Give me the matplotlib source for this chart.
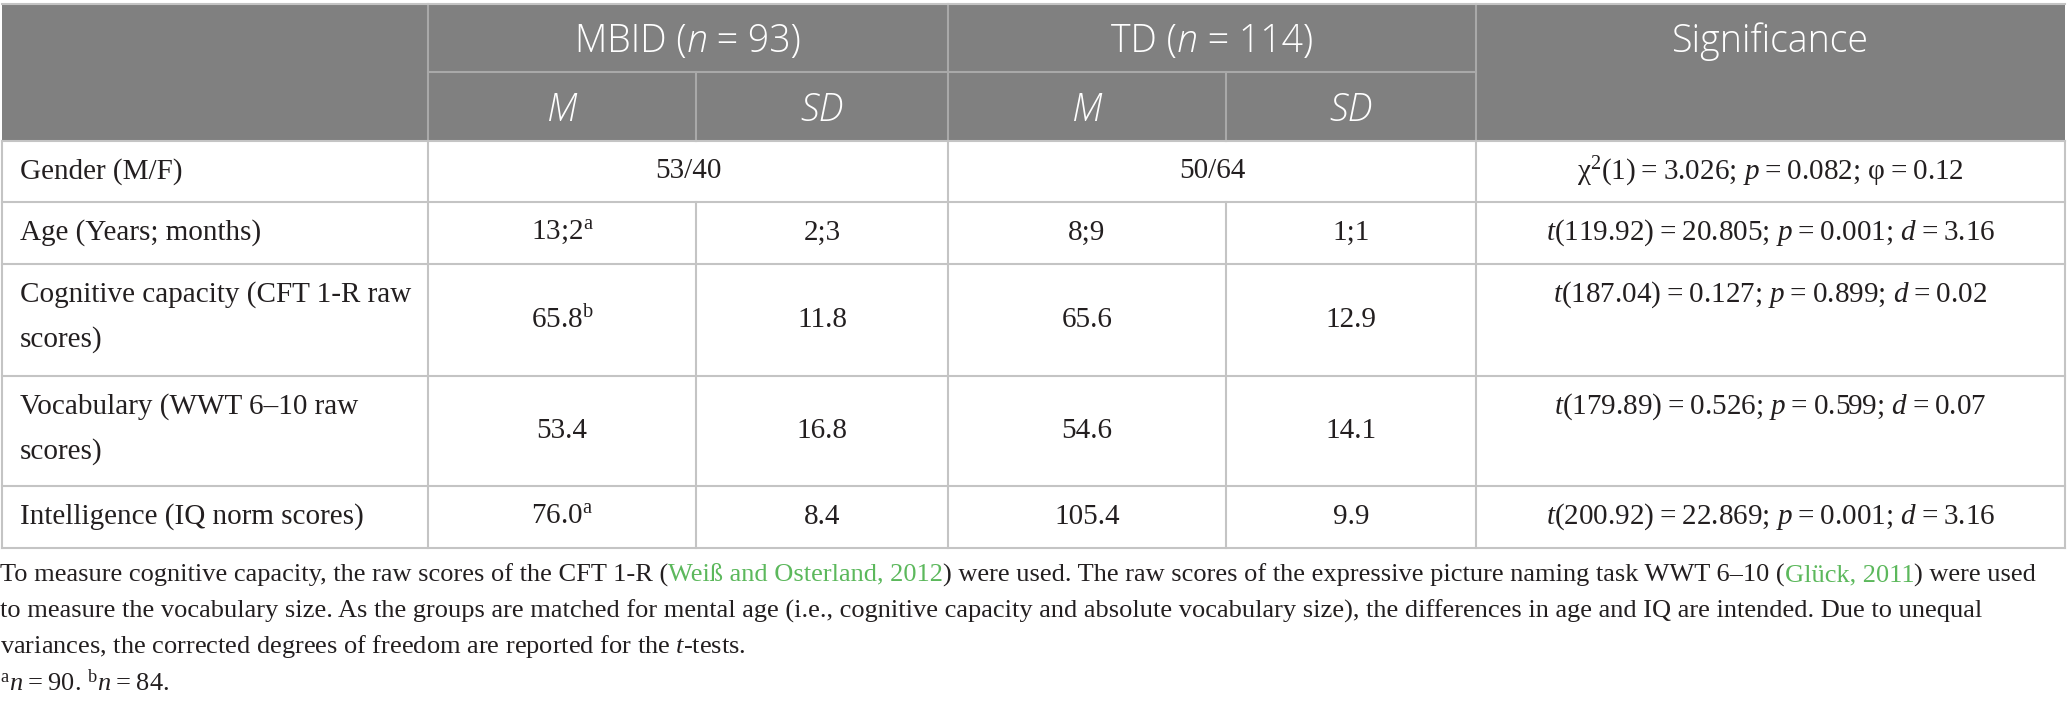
import matplotlib
matplotlib.use("Agg")
import matplotlib.pyplot as plt
from matplotlib.patches import Rectangle

plt.rcParams['mathtext.fontset'] = 'custom'
plt.rcParams['mathtext.rm'] = 'Liberation Serif'
plt.rcParams['mathtext.it'] = 'Liberation Serif:italic'
plt.rcParams['mathtext.bf'] = 'Liberation Serif:bold'

TS = "\u2009"  # espacio fino alrededor de "="

# ---- datos de la tabla ----
group_names = ["MBID", "TD"]
group_n = ["93", "114"]
sub_headers = ["M", "SD", "M", "SD"]
row_labels = ["Gender (M/F)",
              "Age (Years; months)",
              "Cognitive capacity (CFT 1-R raw\nscores)",
              "Vocabulary (WWT 6–10 raw\nscores)",
              "Intelligence (IQ norm scores)"]
gender_mbid = "53/40"
gender_td = "50/64"
mbid_m = [r"13;2$^{\mathrm{a}}$", r"65.8$^{\mathrm{b}}$", "53.4", r"76.0$^{\mathrm{a}}$"]
mbid_sd = ["2;3", "11.8", "16.8", "8.4"]
td_m = ["8;9", "65.6", "54.6", "105.4"]
td_sd = ["1;1", "12.9", "14.1", "9.9"]
significance = [r"χ$^{2}$(1) = 3.026; $p$ = 0.082; φ = 0.12",
                r"$t$(119.92) = 20.805; $p$ = 0.001; $d$ = 3.16",
                r"$t$(187.04) = 0.127; $p$ = 0.899; $d$ = 0.02",
                r"$t$(179.89) = 0.526; $p$ = 0.599; $d$ = 0.07",
                r"$t$(200.92) = 22.869; $p$ = 0.001; $d$ = 3.16"]
note_line1 = [("To measure cognitive capacity, the raw scores of the CFT 1-R (", 0),
              ("Weiß and Osterland, 2012", 1),
              (") were used. The raw scores of the expressive picture naming task WWT 6–10 (", 0),
              ("Glück, 2011", 1),
              (") were used", 0)]
note_line2 = ("to measure the vocabulary size. As the groups are matched for mental age (i.e., cognitive "
              "capacity and absolute vocabulary size), the differences in age and IQ are intended. Due to unequal")
note_line3 = r"variances, the corrected degrees of freedom are reported for the $t$-tests."
note_line4 = r"$^{\mathrm{a}}$$n$ = 90. $^{\mathrm{b}}$$n$ = 84."

# ---- geometria ----
W, H = 2067, 713
col_x = [2, 428, 696, 948, 1226, 1476, 2065]
row_y = [4, 72, 141, 202, 264, 376, 486, 548]

HEAD = "#808080"
HLINE = "#a9a9a9"
GRID = "#c4c4c4"
GREEN = "#5cb85c"
TXT = "#231f20"
SERIF = ["Liberation Serif", "DejaVu Serif"]
SANS = "Open Sans"
FS = 21
NFS = 19
HFS = 27

fig = plt.figure(figsize=(W / 100, H / 100), dpi=100)
ax = fig.add_axes([0, 0, 1, 1])
ax.set_xlim(0, W)
ax.set_ylim(H, 0)
ax.axis('off')
renderer = fig.canvas.get_renderer()


def piezas(x, y, pieces, ha='left'):
    # dibuja trozos de texto uno al lado del otro
    textos = []
    for s, props in pieces:
        t = ax.text(0, y, s, va='center', ha='left', **props)
        textos.append(t)
    anchos = [t.get_window_extent(renderer).width for t in textos]
    x0 = x - sum(anchos) / 2 if ha == 'center' else x
    for t, w in zip(textos, anchos):
        t.set_x(x0)
        x0 += w


def fino(s):
    return s.replace(" = ", TS + "=" + TS)


# cabecera gris
ax.add_patch(Rectangle((col_x[0], row_y[0]), col_x[-1] - col_x[0], row_y[2] - row_y[0],
                       facecolor=HEAD, edgecolor='none'))
# lineas de la cabecera
ax.plot([col_x[1], col_x[5]], [row_y[1], row_y[1]], color=HLINE, lw=1.5)
for i in [1, 3, 5]:
    ax.plot([col_x[i], col_x[i]], [row_y[0], row_y[2]], color=HLINE, lw=1.5)
for i in [2, 4]:
    ax.plot([col_x[i], col_x[i]], [row_y[1], row_y[2]], color=HLINE, lw=1.5)
ax.plot([col_x[0], col_x[-1]], [row_y[0], row_y[0]], color=GRID, lw=1.5)

# lineas del cuerpo
for y in row_y[2:]:
    ax.plot([col_x[0], col_x[-1]], [y, y], color=GRID, lw=1.5)
for i in [0, 1, 3, 5, 6]:
    ax.plot([col_x[i], col_x[i]], [row_y[2], row_y[-1]], color=GRID, lw=1.5)
for i in [2, 4]:
    ax.plot([col_x[i], col_x[i]], [row_y[3], row_y[-1]], color=GRID, lw=1.5)

# textos de cabecera
hk = dict(color='white', fontsize=HFS, family=SANS, fontweight='light')
hk_it = dict(hk, style='italic')
y_h1 = (row_y[0] + row_y[1]) / 2 + 4
y_h2 = (row_y[1] + row_y[2]) / 2 + 4
for g in range(2):
    xc = (col_x[1 + 2 * g] + col_x[3 + 2 * g]) / 2
    piezas(xc, y_h1, [(group_names[g] + " (", hk), ("n", hk_it), (" = " + group_n[g] + ")", hk)],
           ha='center')
for j, s in enumerate(sub_headers):
    xc = (col_x[1 + j] + col_x[2 + j]) / 2
    ax.text(xc, y_h2, s, ha='center', va='center', **hk_it)
ax.text((col_x[5] + col_x[6]) / 2, y_h1, "Significance", ha='center', va='center', **hk)

# cuerpo
bk = dict(color=TXT, fontsize=FS, family=SERIF, va='center')
for r, lab in enumerate(row_labels):
    top, bot = row_y[2 + r], row_y[3 + r]
    yc = (top + bot) / 2
    lineas = lab.split("\n")
    if len(lineas) == 1:
        ax.text(20, yc, lab, ha='left', **bk)
        ysig = yc
    else:
        for k, l in enumerate(lineas):
            ax.text(20, top + 31 + 45 * k, l, ha='left', **bk)
        ysig = top + 31
    ax.text((col_x[5] + col_x[6]) / 2, ysig, fino(significance[r]), ha='center', **bk)
    if r == 0:
        ax.text((col_x[1] + col_x[3]) / 2, yc, gender_mbid, ha='center', **bk)
        ax.text((col_x[3] + col_x[5]) / 2, yc, gender_td, ha='center', **bk)
    else:
        vals = [mbid_m[r - 1], mbid_sd[r - 1], td_m[r - 1], td_sd[r - 1]]
        for j, v in enumerate(vals):
            ax.text((col_x[1 + j] + col_x[2 + j]) / 2, yc, v, ha='center', **bk)

# notas al pie
nk = dict(color=TXT, fontsize=NFS, family=SERIF)
gk = dict(nk, color=GREEN)
piezas(0, 575, [(s, gk if c else nk) for s, c in note_line1])
ax.text(0, 611, note_line2, va='center', **nk)
ax.text(0, 647, note_line3, va='center', **nk)
ax.text(0, 683, fino(note_line4), va='center', **nk)

fig.savefig("out.png", dpi=100)
